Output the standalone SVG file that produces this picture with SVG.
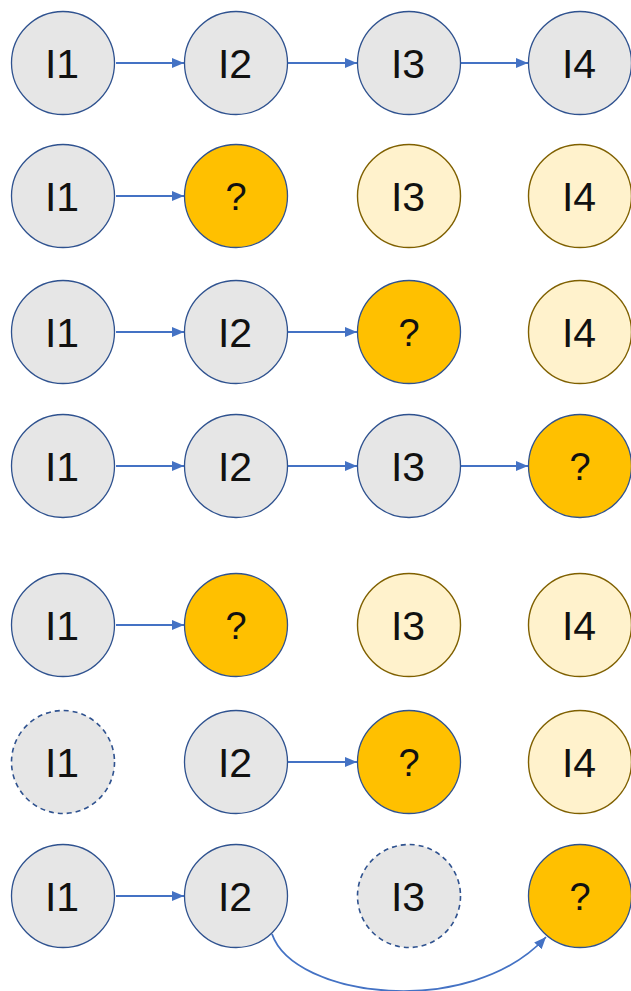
<svg xmlns="http://www.w3.org/2000/svg" width="631" height="991" viewBox="0 0 631 991">
<style>
.n{stroke:#2f528f;stroke-width:1.3;fill:#e6e6e6}
.d{stroke:#2f528f;stroke-width:1.6;fill:#e6e6e6;stroke-dasharray:5 4}
.q{stroke:#2f528f;stroke-width:1.3;fill:#ffc000}
.y{stroke:#7f6000;stroke-width:1.4;fill:#fff2cc}
.t{font-family:"Liberation Sans",Arial,sans-serif;font-size:41px;fill:#111;text-anchor:middle}
.tq{font-family:"Liberation Sans",Arial,sans-serif;font-size:38px;fill:#111;text-anchor:middle}
.c{stroke:#4472c4;stroke-width:1.8;fill:none;marker-end:url(#ah)}
</style>
<defs>
<marker id="ah" markerUnits="userSpaceOnUse" markerWidth="13" markerHeight="11" refX="12" refY="5" orient="auto">
<path d="M0,0 L12,5 L0,10 z" fill="#4472c4"/>
</marker>
</defs>
<g id="connectors">
<line class="c" x1="116" y1="63" x2="184" y2="63"/>
<line class="c" x1="288" y1="63" x2="357" y2="63"/>
<line class="c" x1="461" y1="63" x2="528" y2="63"/>
<line class="c" x1="116" y1="196" x2="184" y2="196"/>
<line class="c" x1="116" y1="332" x2="184" y2="332"/>
<line class="c" x1="288" y1="332" x2="357" y2="332"/>
<line class="c" x1="116" y1="466" x2="184" y2="466"/>
<line class="c" x1="288" y1="466" x2="357" y2="466"/>
<line class="c" x1="461" y1="466" x2="528" y2="466"/>
<line class="c" x1="116" y1="625" x2="184" y2="625"/>
<line class="c" x1="288" y1="762" x2="357" y2="762"/>
<line class="c" x1="116" y1="896" x2="184" y2="896"/>
<path class="c" d="M272,934 C294,998 470,1020 546,937"/>
</g>
<g id="r1n1"><circle class="n" cx="63" cy="63" r="51.5"/><text class="t" x="62" y="78">I1</text></g>
<g id="r1n2"><circle class="n" cx="236" cy="63" r="51.5"/><text class="t" x="235" y="78">I2</text></g>
<g id="r1n3"><circle class="n" cx="409" cy="63" r="51.5"/><text class="t" x="408" y="78">I3</text></g>
<g id="r1n4"><circle class="n" cx="580" cy="63" r="51.5"/><text class="t" x="579" y="78">I4</text></g>

<g id="r2n1"><circle class="n" cx="63" cy="196" r="51.5"/><text class="t" x="62" y="211">I1</text></g>
<g id="r2n2"><circle class="q" cx="236" cy="196" r="51.5"/><text class="tq" x="236" y="210">?</text></g>
<g id="r2n3"><circle class="y" cx="409" cy="196" r="51.5"/><text class="t" x="408" y="211">I3</text></g>
<g id="r2n4"><circle class="y" cx="580" cy="196" r="51.5"/><text class="t" x="579" y="211">I4</text></g>

<g id="r3n1"><circle class="n" cx="63" cy="332" r="51.5"/><text class="t" x="62" y="347">I1</text></g>
<g id="r3n2"><circle class="n" cx="236" cy="332" r="51.5"/><text class="t" x="235" y="347">I2</text></g>
<g id="r3n3"><circle class="q" cx="409" cy="332" r="51.5"/><text class="tq" x="409" y="346">?</text></g>
<g id="r3n4"><circle class="y" cx="580" cy="332" r="51.5"/><text class="t" x="579" y="347">I4</text></g>

<g id="r4n1"><circle class="n" cx="63" cy="466" r="51.5"/><text class="t" x="62" y="481">I1</text></g>
<g id="r4n2"><circle class="n" cx="236" cy="466" r="51.5"/><text class="t" x="235" y="481">I2</text></g>
<g id="r4n3"><circle class="n" cx="409" cy="466" r="51.5"/><text class="t" x="408" y="481">I3</text></g>
<g id="r4n4"><circle class="q" cx="580" cy="466" r="51.5"/><text class="tq" x="580" y="480">?</text></g>

<g id="r5n1"><circle class="n" cx="63" cy="625" r="51.5"/><text class="t" x="62" y="640">I1</text></g>
<g id="r5n2"><circle class="q" cx="236" cy="625" r="51.5"/><text class="tq" x="236" y="639">?</text></g>
<g id="r5n3"><circle class="y" cx="409" cy="625" r="51.5"/><text class="t" x="408" y="640">I3</text></g>
<g id="r5n4"><circle class="y" cx="580" cy="625" r="51.5"/><text class="t" x="579" y="640">I4</text></g>

<g id="r6n1"><circle class="d" cx="63" cy="762" r="51.5"/><text class="t" x="62" y="777">I1</text></g>
<g id="r6n2"><circle class="n" cx="236" cy="762" r="51.5"/><text class="t" x="235" y="777">I2</text></g>
<g id="r6n3"><circle class="q" cx="409" cy="762" r="51.5"/><text class="tq" x="409" y="776">?</text></g>
<g id="r6n4"><circle class="y" cx="580" cy="762" r="51.5"/><text class="t" x="579" y="777">I4</text></g>

<g id="r7n1"><circle class="n" cx="63" cy="896" r="51.5"/><text class="t" x="62" y="911">I1</text></g>
<g id="r7n2"><circle class="n" cx="236" cy="896" r="51.5"/><text class="t" x="235" y="911">I2</text></g>
<g id="r7n3"><circle class="d" cx="409" cy="896" r="51.5"/><text class="t" x="408" y="911">I3</text></g>
<g id="r7n4"><circle class="q" cx="580" cy="896" r="51.5"/><text class="tq" x="580" y="910">?</text></g>
</svg>
